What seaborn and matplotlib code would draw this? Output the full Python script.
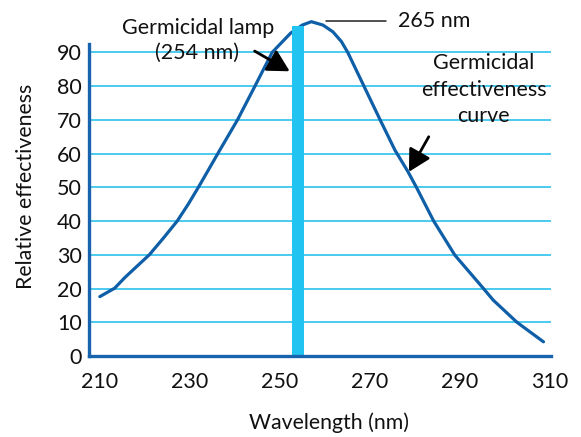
import matplotlib
matplotlib.use('Agg')
import matplotlib.pyplot as plt
import seaborn as sns
import pandas as pd

# ---- data ----
wavelength_nm = [210.0, 213.3, 215.6, 221.0, 224.1, 227.2, 229.7, 231.9, 234.5, 236.7,
                 240.6, 244.4, 248.3, 252.4, 255.0, 257.0, 259.6, 261.8, 263.7, 265.1,
                 268.7, 272.3, 275.6, 278.5, 280.4, 284.2, 288.9, 295.2, 297.4, 302.7,
                 308.6]
effectiveness = [17.6, 20.1, 23.3, 30.0, 34.9, 40.0, 45.1, 50.0, 56.0, 61.1,
                 70.0, 79.8, 90.0, 95.7, 98.1, 99.1, 98.1, 96.1, 93.2, 90.0,
                 80.0, 70.0, 61.0, 54.6, 49.9, 40.0, 29.9, 20.1, 16.6, 10.0,
                 4.2]
lamp_nm = [254]
lamp_height = [97.8]
x_ticks = [210, 230, 250, 270, 290, 310]
y_ticks = [0, 10, 20, 30, 40, 50, 60, 70, 80, 90]

df = pd.DataFrame({"Wavelength (nm)": wavelength_nm,
                   "Relative effectiveness": effectiveness})

sns.set_theme(style="white")
plt.rcParams['font.family'] = ['Lato', 'DejaVu Sans']

CURVE = '#0f5fa8'
SPINE = '#1763ad'
GRID = '#3cc6ee'
LAMP = '#21c3f0'
TXT = '#111111'

W, H = 581, 437
fig = plt.figure(figsize=(W / 100, H / 100), dpi=100)
ax = fig.add_axes([89 / W, 81 / H, 461.7 / W, 354.2 / H])

ax.set_xlim(207.6, 310.2)
ax.set_ylim(0, 105)

# grid
ax.set_yticks(y_ticks)
ax.yaxis.grid(True, color=GRID, lw=1.3, zorder=0)
ax.xaxis.grid(False)
ax.set_axisbelow(True)

# curve
sns.lineplot(data=df, x="Wavelength (nm)", y="Relative effectiveness", ax=ax,
             color=CURVE, lw=2.3, zorder=3, sort=False)
ax.lines[-1].set_solid_joinstyle('round')

# lamp bar
ax.bar(lamp_nm, lamp_height, width=2.6, color=LAMP, zorder=4, linewidth=0)

# spines
for s in ['top', 'right']:
    ax.spines[s].set_visible(False)
for s in ['left', 'bottom']:
    ax.spines[s].set_color(SPINE)
    ax.spines[s].set_linewidth(2.4)
    ax.spines[s].set_zorder(5)
ax.spines['left'].set_bounds(0, 92.6)
ax.spines['bottom'].set_bounds(207.6, 310.2)

ax.set_xticks(x_ticks)
ax.set_xticklabels([str(t) for t in x_ticks])
ax.set_yticklabels([str(t) for t in y_ticks])
ax.tick_params(axis='x', direction='out', length=7.5, width=2.4, color=SPINE,
               pad=4, labelsize=15.5, labelcolor=TXT)
ax.tick_params(axis='y', length=0, pad=5, labelsize=15.5, labelcolor=TXT)
ax.xaxis.get_major_ticks()[0].tick1line.set_visible(False)

ax.set_xlabel("Wavelength (nm)", fontsize=15.3, color=TXT, va='center')
ax.set_ylabel("Relative effectiveness", fontsize=15.3, color=TXT, va='center')
ax.xaxis.set_label_coords((329 - 89) / 461.7, (356 - 423) / 354.2)
ax.yaxis.set_label_coords((26 - 89) / 461.7, (356 - 186.5) / 354.2)

# annotations
tk = dict(fontsize=15.5, color=TXT)
ax.text(231.8, 97.3, "Germicidal lamp", ha='center', va='center', **tk)
ax.text(231.7, 90.0, "(254 nm)", ha='center', va='center', **tk)
ax.text(276.2, 99.3, "265 nm", ha='left', va='center', **tk)
ax.plot([260.2, 273.7], [99.4, 99.4], color='#222222', lw=1.1, zorder=3, clip_on=False)
ax.text(295.3, 79.0, "Germicidal\neffectiveness\ncurve", ha='center', va='center',
        linespacing=1.38, **tk)

arrow = dict(arrowstyle='-|>,head_length=0.55,head_width=0.3', color='black', lw=2.0,
             mutation_scale=24, shrinkA=0, shrinkB=0)
ax.annotate("", xy=(252.2, 84.4), xytext=(244.4, 90.4), arrowprops=arrow, zorder=6)
ax.annotate("", xy=(278.7, 54.6), xytext=(283.1, 65.0), arrowprops=arrow, zorder=6)

fig.savefig("out.png", dpi=100)
